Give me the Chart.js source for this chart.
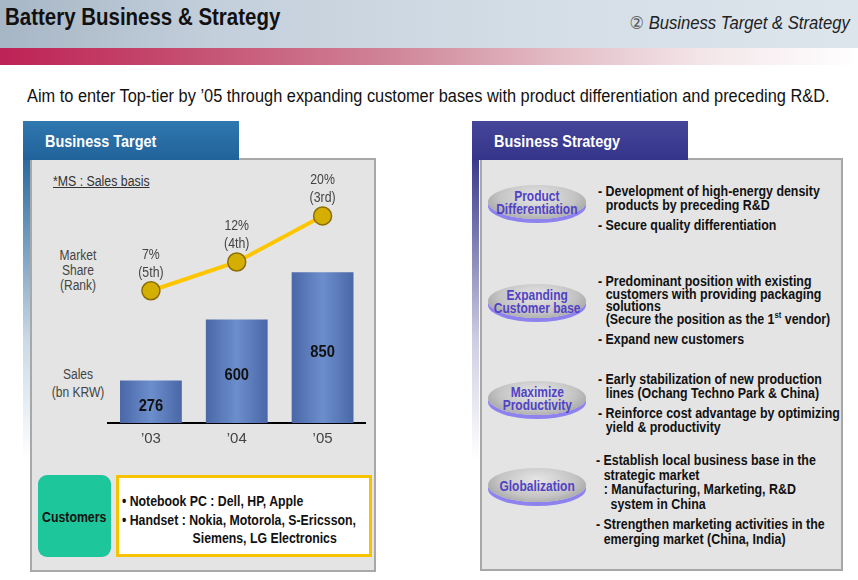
<!DOCTYPE html>
<html>
<head>
<meta charset="utf-8">
<script src="https://cdn.jsdelivr.net/npm/chart.js@4"></script>
<style>
  body { margin: 0; width: 858px; height: 580px; position: relative; background: #fff; overflow: hidden;
         font-family: "Liberation Sans", Arial, sans-serif; color: #111; }
  .abs { position: absolute; }
  .sq { display: inline-block; transform-origin: 0 0; white-space: nowrap; }
  #head { left: 0; top: 0; width: 858px; height: 48px;
          background: linear-gradient(to right, #a7b6c5 0%, #c3cfdb 25%, #d3dde6 60%, #dde5ec 100%); }
  #title { left: 5px; top: 2px; font-size: 23px; font-weight: bold; line-height: 30px; transform: scaleX(0.89); transform-origin: 0 0; white-space: nowrap; }
  #section { right: 8px; top: 10px; font-size: 18.5px; font-style: italic; line-height: 26px; color: #222;
             transform: scaleX(0.9); transform-origin: 100% 0; white-space: nowrap; }
  #band { left: 0; top: 48px; width: 858px; height: 17px;
          background: linear-gradient(to right, #be2256 0%, #c44a6e 20%, #cf8396 45%, #e3bcc6 65%, #f3e6e9 82%, #ffffff 100%); }
  #sub { left: 27px; top: 85px; font-size: 17.5px; line-height: 22px; white-space: nowrap; transform: scaleX(0.935); transform-origin: 0 0; }
  .tab { top: 121px; height: 39px; width: 216px; color: #fff; font-weight: bold; font-size: 17px;
         line-height: 41px; padding-left: 22px; box-sizing: border-box; }
  .tab span { display: inline-block; transform: scaleX(0.85); transform-origin: 0 0; }
  .strip { top: 160px; width: 7px; height: 300px; }
  .panel { top: 158px; background: #e4e4e4; border: 2px solid #a8a8a8; box-sizing: border-box; }
  .lbl { color: #444; font-size: 14px; text-align: center; line-height: 15px; transform: scaleX(0.86); }
  .ell { width: 98px; height: 34px; border-radius: 50%; left: 488px;
         background: radial-gradient(ellipse at 50% 35%, #e6e6e6 0%, #c4c4c4 55%, #8e8e8e 100%);
         box-shadow: 0 4px 0 #8d82ee; color: #5143c4; font-weight: bold; font-size: 15px; line-height: 13px;
         display: flex; align-items: center; justify-content: center; text-align: center; }
  .ell span { display: inline-block; transform: scaleX(0.8); white-space: nowrap; }
  .txt { left: 598px; font-weight: bold; font-size: 14.5px; white-space: nowrap; transform: scaleX(0.855); transform-origin: 0 0; }
  .txt div + div { margin-top: 6px; }
  .ind { padding-left: 9px; }
</style>
</head>
<body>
<div id="head" class="abs"></div>
<div id="title" class="abs">Battery Business &amp; Strategy</div>
<div id="section" class="abs"><span style="font-family:'DejaVu Sans';font-style:normal;font-size:18px;color:#555">②</span> Business Target &amp; Strategy</div>
<div id="band" class="abs"></div>
<div id="sub" class="abs">Aim to enter Top-tier by ’05 through expanding customer bases with product differentiation and preceding R&amp;D.</div>

<!-- left side -->
<div class="abs strip" style="left:23px;background:linear-gradient(to bottom,#2a6aa0,rgba(42,106,160,0.25) 60%,rgba(42,106,160,0));"></div>
<div class="abs panel" style="left:30px;width:346px;height:414px;"></div>
<div class="abs tab" style="left:23px;background:linear-gradient(to bottom,#2f78b0,#22629a);"><span>Business Target</span></div>
<div class="abs lbl" style="left:53px;top:174px;text-decoration:underline;color:#333;transform-origin:0 0;transform:scaleX(0.88);">*MS : Sales basis</div>
<div class="abs lbl" style="left:38px;top:248px;width:80px;">Market<br>Share<br>(Rank)</div>
<div class="abs lbl" style="left:38px;top:365px;width:80px;line-height:18px;">Sales<br>(bn KRW)</div>
<canvas id="c" class="abs" style="left:30px;top:160px;width:346px;height:295px;"></canvas>
<div class="abs" style="left:38px;top:475px;width:73px;height:82px;background:#1ec69b;border-radius:9px;display:flex;align-items:center;justify-content:center;font-weight:bold;font-size:15px;">
  <span style="display:inline-block;transform:scaleX(0.82)">Customers</span></div>
<div class="abs" style="left:116px;top:475px;width:256px;height:82px;border:3px solid #f6c300;background:#fff;box-sizing:border-box;padding:14px 0 0 3px;">
  <div class="sq" style="font-size:15px;line-height:18.5px;font-weight:bold;transform:scaleX(0.82);">
  • Notebook PC : Dell, HP, Apple<br>• Handset : Nokia, Motorola, S-Ericsson,<br><span style="padding-left:86px">Siemens, LG Electronics</span></div>
</div>

<!-- right side -->
<div class="abs strip" style="left:472px;background:linear-gradient(to bottom,#3b3b8c,rgba(59,59,140,0.25) 60%,rgba(59,59,140,0));"></div>
<div class="abs panel" style="left:480px;width:363px;height:413px;"></div>
<div class="abs tab" style="left:472px;background:linear-gradient(to bottom,#45459a,#34348a);"><span>Business Strategy</span></div>

<div class="abs ell" style="top:185px;"><span>Product<br>Differentiation</span></div>
<div class="abs ell" style="top:284px;"><span>Expanding<br>Customer base</span></div>
<div class="abs ell" style="top:381px;"><span>Maximize<br>Productivity</span></div>
<div class="abs ell" style="top:468px;"><span>Globalization</span></div>

<div class="abs txt" style="top:184px;line-height:14px;">
  <div>- Development of high-energy density<br><span class="ind">products by preceding R&amp;D</span></div>
  <div>- Secure quality differentiation</div>
</div>
<div class="abs txt" style="top:275px;line-height:12.7px;">
  <div>- Predominant position with existing<br><span class="ind">customers with providing packaging</span><br><span class="ind">solutions</span><br><span class="ind">(Secure the position as the 1<sup style="font-size:9px;line-height:0">st</sup> vendor)</span></div>
  <div style="margin-top:7px">- Expand new customers</div>
</div>
<div class="abs txt" style="top:372px;line-height:14px;">
  <div>- Early stabilization of new production<br><span class="ind">lines (Ochang Techno Park &amp; China)</span></div>
  <div>- Reinforce cost advantage by optimizing<br><span class="ind">yield &amp; productivity</span></div>
</div>
<div class="abs txt" style="top:453px;line-height:14.5px;left:596px;">
  <div>- Establish local business base in the<br><span class="ind">strategic market</span><br><span class="ind">: Manufacturing, Marketing, R&amp;D</span><br><span class="ind" style="padding-left:17px">system in China</span></div>
  <div>- Strengthen marketing activities in the<br><span class="ind">emerging market (China, India)</span></div>
</div>

<script>
const years = ['’03', '’04', '’05'];
const sales = [276, 600, 850];        // bn KRW
const share = [7, 12, 20];            // market share %
const ranks = ['5th', '4th', '3rd'];

const font = '"Liberation Sans", Arial, sans-serif';

// bar fill: darker edges, lighter middle
function barFill(ctx) {
  const chart = ctx.chart;
  if (!chart.chartArea || ctx.type !== 'data') return '#5b7cbc';
  const xs = chart.scales.x;
  const cx = xs.getPixelForValue(ctx.dataIndex);
  const half = (xs.width / years.length) * 0.36;
  const g = chart.ctx.createLinearGradient(cx - half, 0, cx + half, 0);
  g.addColorStop(0, '#4a67a6');
  g.addColorStop(0.5, '#6c8ecd');
  g.addColorStop(1, '#4a67a6');
  return g;
}

// squeezed text, the slide font is a narrow one
function narrowText(c, txt, x, y, sx) {
  c.save();
  c.translate(x, y);
  c.scale(sx, 1);
  c.fillText(txt, 0, 0);
  c.restore();
}

const labelPlugin = {
  id: 'labels',
  afterDatasetsDraw(chart) {
    const c = chart.ctx;
    c.save();
    c.textAlign = 'center';
    c.textBaseline = 'middle';
    chart.getDatasetMeta(0).data.forEach((bar, i) => {
      c.font = 'bold 16px ' + font;
      c.fillStyle = '#111';
      narrowText(c, sales[i], bar.x, (bar.y + bar.base) / 2, 0.92);
    });
    chart.getDatasetMeta(1).data.forEach((pt, i) => {
      c.font = '15px ' + font;
      c.fillStyle = '#444';
      narrowText(c, share[i] + '%', pt.x, pt.y - 36, 0.82);
      narrowText(c, '(' + ranks[i] + ')', pt.x, pt.y - 18, 0.82);
    });
    c.restore();
  }
};

new Chart(document.getElementById('c'), {
  type: 'bar',
  data: {
    labels: years,
    datasets: [{
      label: 'Sales',
      data: sales,
      yAxisID: 'y',
      backgroundColor: barFill,
      barPercentage: 0.72,
      categoryPercentage: 1,
      order: 2
    }, {
      type: 'line',
      label: 'Market Share',
      data: share,
      yAxisID: 'y1',
      borderColor: '#ffc600',
      borderWidth: 4,
      pointRadius: 9,
      pointBackgroundColor: '#d4ae00',
      pointBorderColor: '#8c6e00',
      pointBorderWidth: 1.5,
      order: 1
    }]
  },
  options: {
    responsive: false,
    animation: false,
    layout: { padding: { left: 78, right: 9, top: 37, bottom: 0 } },
    plugins: { legend: { display: false }, tooltip: { enabled: false } },
    scales: {
      x: {
        grid: { display: false, drawTicks: false },
        border: { display: true, color: '#000', width: 2 },
        ticks: { color: '#444', padding: 7, font: { size: 15, family: font } }
      },
      y: { display: false, min: 50, max: 1250 },
      y1: { display: false, min: -16, max: 23.3 }
    }
  },
  plugins: [labelPlugin]
});
</script>
</body>
</html>
